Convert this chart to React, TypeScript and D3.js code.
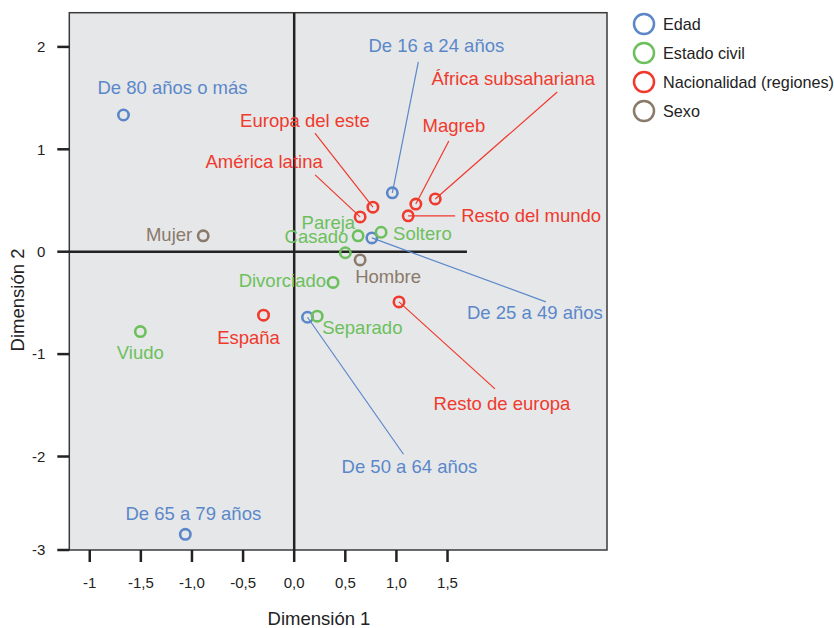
import * as d3 from 'd3';

// categories (legend order)
const groups = ['Edad', 'Estado civil', 'Nacionalidad (regiones)', 'Sexo'];
const groupColors = ['#5b87c9', '#6cc05c', '#ef3a2d', '#8a7a69'];

// points: name, group index, dim1, dim2
const pointNames = [
  'De 80 años o más', 'De 16 a 24 años', 'De 25 a 49 años', 'De 50 a 64 años', 'De 65 a 79 años',
  'Pareja', 'Casado', 'Soltero', 'Divorciado', 'Separado', 'Viudo',
  'Europa del este', 'América latina', 'Magreb', 'África subsahariana', 'Resto del mundo', 'Resto de europa', 'España',
  'Mujer', 'Hombre',
];
const pointGroups = [0, 0, 0, 0, 0, 1, 1, 1, 1, 1, 1, 2, 2, 2, 2, 2, 2, 2, 3, 3];
const dim1 = [
  -1.67, 0.96, 0.76, 0.13, -1.065,
  0.625, 0.50, 0.85, 0.38, 0.225, -1.505,
  0.77, 0.645, 1.19, 1.38, 1.115, 1.025, -0.30,
  -0.89, 0.645,
];
const dim2 = [
  1.335, 0.575, 0.135, -0.64, -2.76,
  0.155, -0.01, 0.19, -0.30, -0.63, -0.78,
  0.435, 0.34, 0.465, 0.515, 0.35, -0.49, -0.62,
  0.155, -0.08,
];

// axis ticks
const xTicks = [-2, -1.5, -1, -0.5, 0, 0.5, 1, 1.5];
const xTickLabels = ['-1', '-1,5', '-1,0', '-0,5', '0,0', '0,5', '1,0', '1,5'];
const yTicks = [2, 1, 0, -1, -2, -3];
const yTickLabels = ['2', '1', '0', '-1', '-2', '-3'];

// label placement (pixel offsets from the point), leader line end if any
const labelLayout: Record<string, { dx: number; dy: number; anchor: string; lx?: number; ly?: number }> = {
  'De 80 años o más': { dx: 49, dy: -27, anchor: 'middle' },
  'De 16 a 24 años': { dx: 44, dy: -147, anchor: 'middle', lx: 26, ly: -131 },
  'De 25 a 49 años': { dx: 163, dy: 75, anchor: 'middle', lx: 174, ly: 64 },
  'De 50 a 64 años': { dx: 102, dy: 149, anchor: 'middle', lx: 96, ly: 137 },
  'De 65 a 79 años': { dx: 8, dy: -21, anchor: 'middle' },
  Pareja: { dx: -3, dy: -13, anchor: 'end' },
  Casado: { dx: 3, dy: -16, anchor: 'end' },
  Soltero: { dx: 12, dy: 1, anchor: 'start' },
  Divorciado: { dx: -7, dy: -2, anchor: 'end' },
  Separado: { dx: 5, dy: 11, anchor: 'start' },
  Viudo: { dx: 0, dy: 21, anchor: 'middle' },
  'Europa del este': { dx: -68, dy: -87, anchor: 'middle', lx: -58, ly: -74 },
  'América latina': { dx: -96, dy: -55, anchor: 'middle', lx: -45, ly: -42 },
  Magreb: { dx: 38, dy: -79, anchor: 'middle', lx: 33, ly: -63 },
  'África subsahariana': { dx: 78, dy: -120, anchor: 'middle', lx: 122, ly: -107 },
  'Resto del mundo': { dx: 53, dy: 0, anchor: 'start', lx: 47, ly: 0 },
  'Resto de europa': { dx: 103, dy: 102, anchor: 'middle', lx: 96, ly: 87 },
  España: { dx: -15, dy: 22, anchor: 'middle' },
  Mujer: { dx: -11, dy: -1, anchor: 'end' },
  Hombre: { dx: 28, dy: 17, anchor: 'middle' },
};

const W = 834;
const H = 628;
const font = 'Liberation Sans, Arial, Helvetica, sans-serif';

export default function App() {
  const x = d3.scaleLinear().domain([-2.2, 3.06]).range([69.3, 607]);
  const y = d3.scaleLinear().domain([-2.913, 2.334]).range([550, 12.7]).clamp(true);
  const [x0, x1] = x.range();
  const [y0, y1] = y.range();

  return (
    <svg width={W} height={H} style={{ position: 'absolute', left: 0, top: 0, fontFamily: font }}>
      <rect x={x0} y={y1} width={x1 - x0} height={y0 - y1} fill="#e6e7e9" stroke="#3a3a3a" strokeWidth={1.5} />

      {/* reference lines */}
      <line x1={x(0)} x2={x(0)} y1={y1} y2={y0} stroke="#222" strokeWidth={2.5} />
      <line x1={x0} x2={x(1.69)} y1={y(0)} y2={y(0)} stroke="#222" strokeWidth={2.5} />

      {/* x axis */}
      {xTicks.map((t, i) => (
        <g key={'xt' + i}>
          <line x1={x(t)} x2={x(t)} y1={y0} y2={y0 + 12} stroke="#222" strokeWidth={2.5} />
          <text x={x(t)} y={y0 + 38} textAnchor="middle" fontSize={15} fill="#222">
            {xTickLabels[i]}
          </text>
        </g>
      ))}
      <text x={319} y={625} textAnchor="middle" fontSize={18.5} fill="#222">Dimensión 1</text>

      {/* y axis */}
      {yTicks.map((t, i) => (
        <g key={'yt' + i}>
          <line x1={x0 - 12} x2={x0} y1={y(t)} y2={y(t)} stroke="#222" strokeWidth={2.5} />
          <text x={x0 - 24} y={y(t)} dy="0.35em" textAnchor="end" fontSize={15} fill="#222">
            {yTickLabels[i]}
          </text>
        </g>
      ))}
      <text transform={`translate(24,${300}) rotate(-90)`} textAnchor="middle" fontSize={18.5} fill="#222">
        Dimensión 2
      </text>

      {/* leader lines */}
      {pointNames.map((n, i) => {
        const L = labelLayout[n];
        if (L.lx === undefined) return null;
        const px = x(dim1[i]);
        const py = y(dim2[i]);
        return (
          <line key={'l' + i} x1={px} y1={py} x2={px + L.lx} y2={py + (L.ly ?? 0)}
            stroke={groupColors[pointGroups[i]]} strokeWidth={1.2} />
        );
      })}

      {/* points */}
      {pointNames.map((n, i) => (
        <circle key={'p' + i} cx={x(dim1[i])} cy={y(dim2[i])} r={5.2} fill="none"
          stroke={groupColors[pointGroups[i]]} strokeWidth={2.6} />
      ))}

      {/* labels */}
      {pointNames.map((n, i) => {
        const L = labelLayout[n];
        return (
          <text key={'t' + i} x={x(dim1[i]) + L.dx} y={y(dim2[i]) + L.dy} dy="0.35em"
            textAnchor={L.anchor as any} fontSize={18.5} fill={groupColors[pointGroups[i]]}>
            {n}
          </text>
        );
      })}

      {/* legend */}
      {groups.map((g, i) => (
        <g key={'lg' + i} transform={`translate(644,${24 + i * 29})`}>
          <circle r={10} fill="none" stroke={groupColors[i]} strokeWidth={2.5} />
          <text x={19} dy="0.35em" fontSize={16.2} fill="#222">{g}</text>
        </g>
      ))}
    </svg>
  );
}
